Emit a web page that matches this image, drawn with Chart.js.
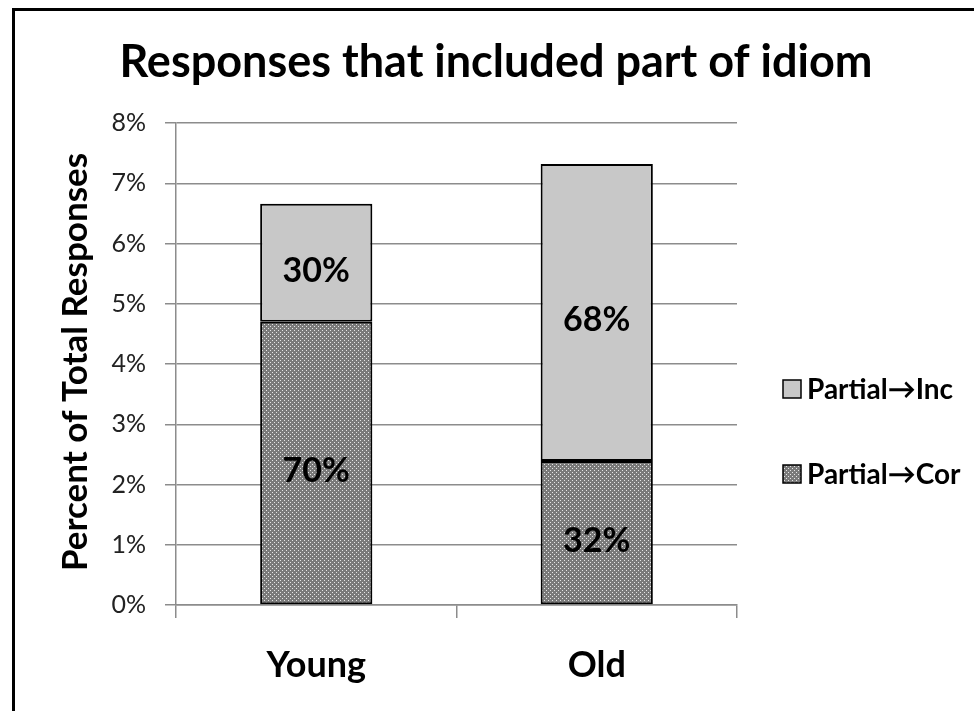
<!DOCTYPE html>
<html>
<head>
<meta charset="utf-8">
<script src="https://cdn.jsdelivr.net/npm/chart.js@4.4.1/dist/chart.umd.min.js"></script>
<style>
html, body { margin: 0; padding: 0; background: #fff; overflow: hidden; }
#wrap { position: relative; width: 974px; height: 711px; }
#frame { position: absolute; left: 12px; top: 8px; width: 990px; height: 730px; border: 3px solid #000; box-sizing: border-box; }
canvas { position: absolute; left: 0; top: 0; }
</style>
</head>
<body>
<div id="wrap">
  <div id="frame"></div>
  <canvas id="chart" width="974" height="711"></canvas>
</div>
<script>
// Datos
const groups = ['Young', 'Old'];
const corValues = [4.70, 2.39];   // Partial→Cor (%)
const incValues = [1.96, 4.93];   // Partial→Inc (%)
const corShare = ['70%', '32%'];
const incShare = ['30%', '68%'];
const titleText = 'Responses that included part of idiom';
const yTitle = 'Percent of Total Responses';

const FONT = 'Lato, "Open Sans", sans-serif';

// Trama punteada para Partial→Cor
function dotPattern() {
    const c = document.createElement('canvas');
    c.width = 4; c.height = 4;
    const g = c.getContext('2d');
    g.fillStyle = '#7a7a7a';
    g.fillRect(0, 0, 4, 4);
    g.fillStyle = '#e6e6e6';
    g.fillRect(0, 0, 1, 1);
    g.fillRect(2, 2, 1, 1);
    return g.createPattern(c, 'repeat');
}

const ctx = document.getElementById('chart').getContext('2d');
const corFill = dotPattern();
const incFill = '#c8c8c8';

// Textos, leyenda y etiquetas dibujados a mano
const extras = {
    id: 'extras',
    afterDraw(chart) {
        const c = chart.ctx;
        c.save();
        c.fillStyle = '#000';
        c.textAlign = 'center';
        c.textBaseline = 'middle';

        // título
        c.font = 'bold 45px ' + FONT;
        c.fillText(titleText, 496, 62);

        // título eje Y
        c.save();
        c.translate(76, 362);
        c.rotate(-Math.PI / 2);
        c.font = 'bold 35px ' + FONT;
        c.fillText(yTitle, 0, 0);
        c.restore();

        // etiquetas de porcentaje
        c.font = 'bold 34px ' + FONT;
        chart.data.datasets.forEach((ds, di) => {
            const meta = chart.getDatasetMeta(di);
            meta.data.forEach((bar, i) => {
                const mid = (bar.y + bar.base) / 2;
                c.fillText(ds.shares[i], bar.x, mid + 8);
            });
        });

        // leyenda
        const items = [
            { label: 'Partial\u2192Inc', fill: incFill, y: 389 },
            { label: 'Partial\u2192Cor', fill: corFill, y: 474 }
        ];
        c.textAlign = 'left';
        c.font = 'bold 28px ' + FONT;
        items.forEach(it => {
            c.fillStyle = it.fill;
            c.fillRect(783, it.y - 9, 18, 18);
            c.strokeStyle = '#000';
            c.lineWidth = 1.5;
            c.strokeRect(783, it.y - 9, 18, 18);
            c.fillStyle = '#000';
            c.fillText(it.label, 807, it.y + 1);
        });
        c.restore();
    }
};

const chart = new Chart(ctx, {
    type: 'bar',
    data: {
        labels: groups,
        datasets: [
            {
                label: 'Partial\u2192Cor',
                data: corValues,
                shares: corShare,
                backgroundColor: corFill,
                borderColor: '#000',
                borderWidth: 2,
                borderSkipped: false
            },
            {
                label: 'Partial\u2192Inc',
                data: incValues,
                shares: incShare,
                backgroundColor: incFill,
                borderColor: '#000',
                borderWidth: 2,
                borderSkipped: false
            }
        ]
    },
    options: {
        responsive: false,
        animation: false,
        layout: { padding: { left: 0, top: 123, right: 237, bottom: 0 } },
        plugins: {
            legend: { display: false },
            title: { display: false },
            tooltip: { enabled: false }
        },
        datasets: {
            bar: { categoryPercentage: 1, barPercentage: 0.4 }
        },
        scales: {
            x: {
                stacked: true,
                afterFit(s) { s.height = 106; },
                grid: {
                    offset: true,
                    drawOnChartArea: false,
                    color: '#8c8c8c',
                    lineWidth: 1.5,
                    tickLength: 13
                },
                border: { color: '#8c8c8c', width: 1.5 },
                ticks: {
                    color: '#000',
                    padding: 26,
                    font: { family: FONT, size: 36, weight: 'bold' }
                }
            },
            y: {
                stacked: true,
                min: 0,
                max: 8,
                afterFit(s) { s.width = 176; },
                grid: {
                    color: '#8c8c8c',
                    lineWidth: 1.5,
                    tickLength: 11
                },
                border: { color: '#8c8c8c', width: 1.5 },
                ticks: {
                    stepSize: 1,
                    color: '#222',
                    padding: 19,
                    font: { family: FONT, size: 25 },
                    callback: v => v + '%'
                }
            }
        }
    },
    plugins: [extras]
});
</script>
</body>
</html>
